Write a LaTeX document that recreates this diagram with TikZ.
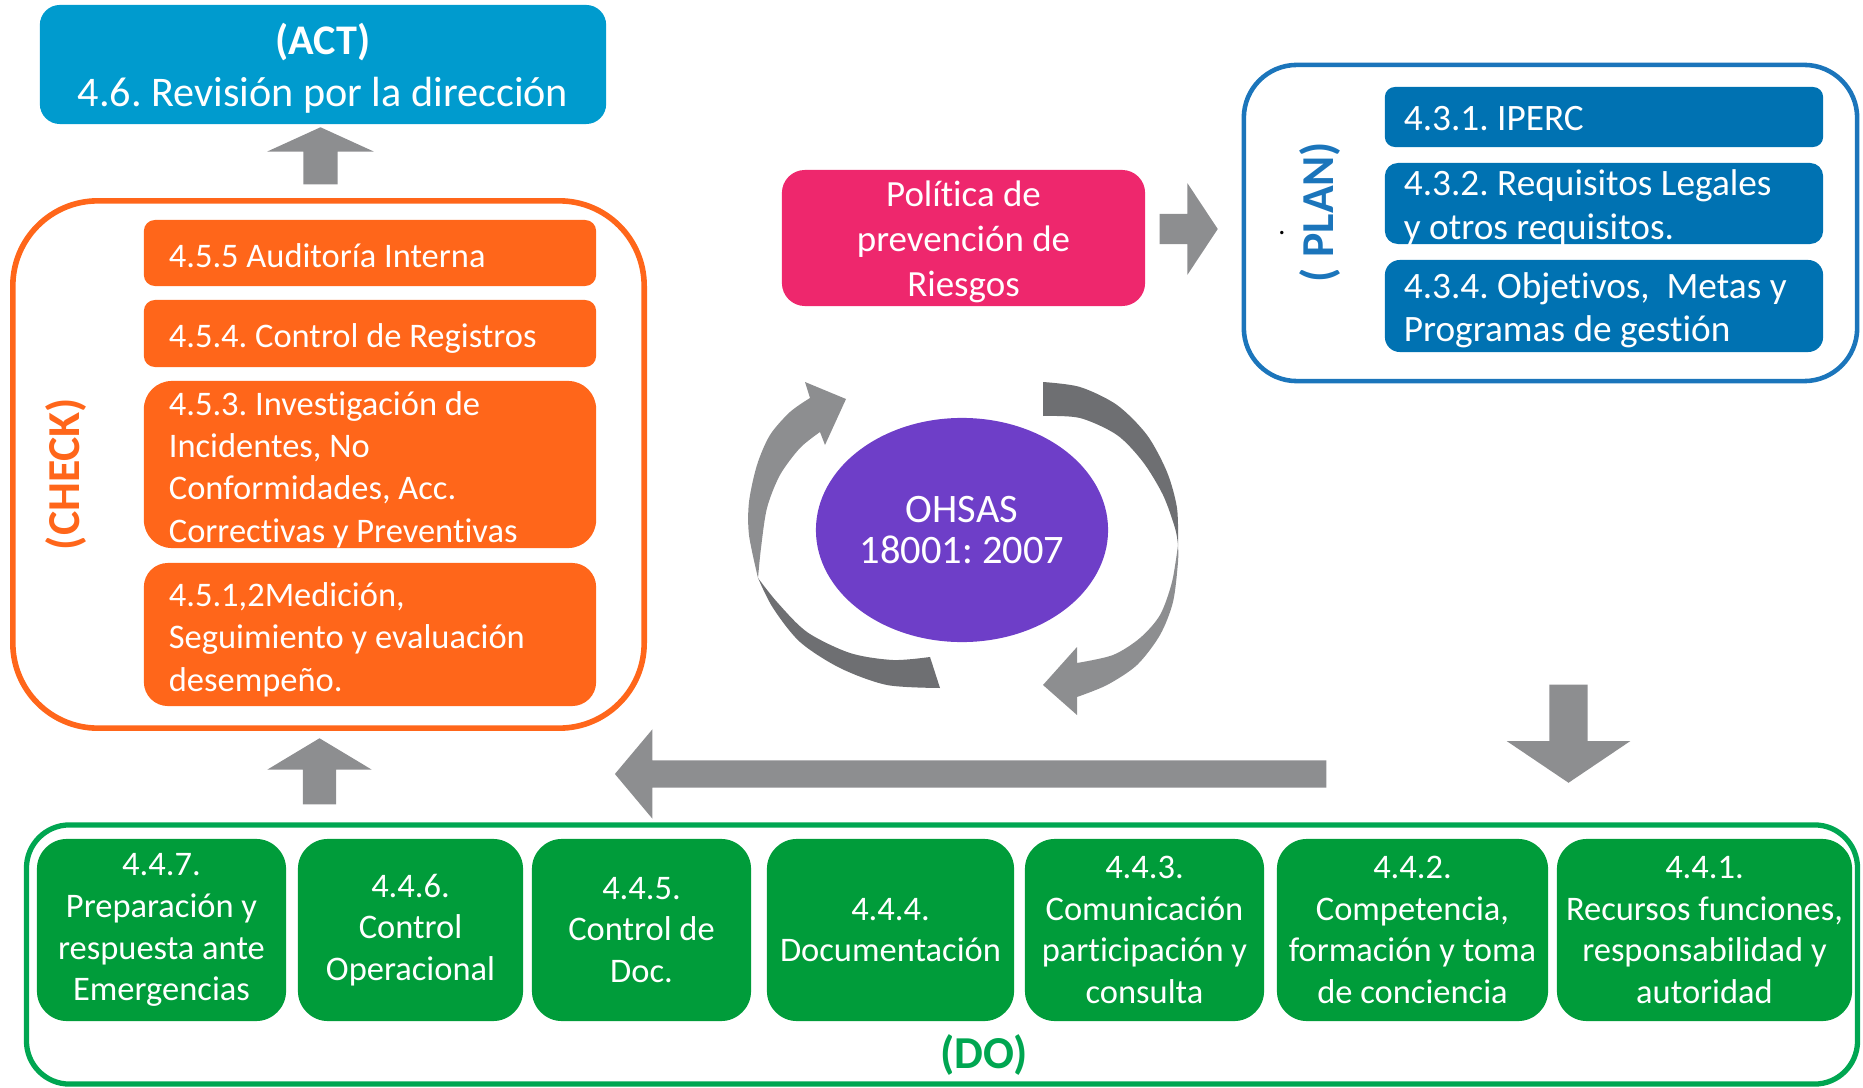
\documentclass[tikz,border=0pt]{standalone}
\usepackage{fontspec}
\setmainfont{Carlito}[Ligatures=CommonOff]
\usetikzlibrary{shapes.geometric,shapes.arrows}
\frenchspacing
\definecolor{actblue}{RGB}{0,155,206}
\definecolor{planblue}{RGB}{0,114,178}
\definecolor{planline}{RGB}{27,117,187}
\definecolor{checkorange}{RGB}{255,102,26}
\definecolor{dogreen}{RGB}{0,156,58}
\definecolor{doline}{RGB}{0,166,81}
\definecolor{politicapink}{RGB}{238,39,109}
\definecolor{ohsaspurple}{RGB}{110,62,200}
\definecolor{arrowgray}{RGB}{141,142,144}
\definecolor{arrowdark}{RGB}{110,111,114}

\begin{document}
\begin{tikzpicture}[x=0.01cm,y=-0.01cm,
  pptlines/.style={inner ysep=-0.1cm, execute at begin node={\rule{0pt}{#1}}, execute at end node={\rule[-0.25em]{0pt}{0.25em}}},
  pptlines/.default=1em,
  stageframe/.style={draw, line width=1.6pt, inner sep=0pt},
  checkbox/.style={fill=checkorange, text=white, minimum width=4.52cm, text width=4.02cm, inner xsep=0.25cm, align=flush left, font=\fontsize{9.8}{12}\selectfont, pptlines=1.08em},
  planbox/.style={fill=planblue, text=white, minimum width=4.38cm, text width=4.0cm, inner xsep=0.19cm, align=flush left, font=\fontsize{10.6}{12.5}\selectfont, pptlines},
  dobox/.style={fill=dogreen, text=white, minimum height=1.82cm, inner sep=0pt, align=center, rounded corners=0.3cm, font=\fontsize{9.8}{11.9}\selectfont},
  steplabel/.style={font=\bfseries\fontsize{13}{13}\selectfont, inner sep=0pt},
  blockarrow/.style={single arrow, fill=arrowgray, inner xsep=0pt, single arrow head indent=0pt, anchor=tail}]
\useasboundingbox (0,0) rectangle (1863,1088);

\node[fill=actblue, text=white, minimum width=5.66cm, minimum height=1.19cm, text width=5.66cm, rounded corners=0.2cm, inner xsep=0pt, align=flush center, font=\fontsize{12}{14.8}\selectfont, pptlines] (act) at (323,64.5) {\textbf{(ACT)}\\4.6. Revisión por la dirección};

\node[stageframe, draw=checkorange, minimum width=6.31cm, minimum height=5.27cm, rounded corners=0.85cm] (check) at (328.5,464.5) {};
\node[checkbox, minimum height=0.66cm, rounded corners=0.11cm] (c455) at (370,253) {4.5.5 Auditoría Interna};
\node[checkbox, minimum height=0.67cm, rounded corners=0.11cm] (c454) at (370,333.5) {4.5.4. Control de Registros};
\node[checkbox, minimum height=1.67cm, rounded corners=0.28cm] (c453) at (370,464.5) {4.5.3. Investigación de\\Incidentes, No\\Conformidades, Acc.\\Correctivas y Preventivas};
\node[checkbox, minimum height=1.43cm, rounded corners=0.24cm] (c451) at (370,634.5) {4.5.1,2Medición,\\Seguimiento y evaluación\\desempeño.};
\node[steplabel, text=checkorange, rotate=90] (checklabel) at (66,474) {(CHECK)};

\node[fill=politicapink, text=white, minimum width=3.63cm, minimum height=1.36cm, text width=3.63cm, rounded corners=0.23cm, inner xsep=0pt, align=flush center, font=\fontsize{10.5}{12.8}\selectfont, pptlines] (politica) at (963.5,238) {Política de\\prevención de\\Riesgos};

\node[stageframe, draw=planline, line width=1.3pt, minimum width=6.13cm, minimum height=3.16cm, rounded corners=0.53cm] (plan) at (1550.5,223) {};
\node[planbox, minimum height=0.6cm, rounded corners=0.1cm] (p431) at (1604,117) {4.3.1. IPERC};
\node[planbox, minimum height=0.81cm, rounded corners=0.13cm] (p432) at (1604,203.5) {4.3.2. Requisitos Legales\\y otros requisitos.};
\node[planbox, minimum height=0.92cm, rounded corners=0.15cm] (p434) at (1604,306) {4.3.4. Objetivos,~ Metas y\\Programas de gestión};
\node[steplabel, text=planline, rotate=90] (planlabel) at (1320,212) {( PLAN)};
\node[font=\fontsize{8}{8}\selectfont, inner sep=0pt] (punto) at (1282,233) {.};

\node[ellipse, fill=ohsaspurple, text=white, minimum width=2.92cm, minimum height=2.24cm, inner sep=0pt, align=center, font=\fontsize{11.5}{11.5}\selectfont] (ohsas) at (962,530) {OHSAS\\18001: 2007};

\node[stageframe, draw=doline, line width=1.5pt, minimum width=18.3cm, minimum height=2.59cm, rounded corners=0.43cm] (do) at (942,954.5) {};
\node[dobox, minimum width=2.49cm] (d447) at (161.5,930) {4.4.7.\\Preparación y\\respuesta ante\\Emergencias};
\node[dobox, minimum width=2.25cm] (d446) at (410.5,930) {4.4.6.\\Control\\Operacional};
\node[dobox, minimum width=2.19cm] (d445) at (641.5,930) {4.4.5.\\Control de\\Doc.};
\node[dobox, minimum width=2.47cm] (d444) at (890.5,930) {4.4.4.\\Documentación};
\node[dobox, minimum width=2.39cm] (d443) at (1144.5,930) {4.4.3.\\Comunicación\\participación y\\consulta};
\node[dobox, minimum width=2.71cm] (d442) at (1412.5,930) {4.4.2.\\Competencia,\\formación y toma\\de conciencia};
\node[dobox, minimum width=2.95cm] (d441) at (1704.5,930) {4.4.1.\\Recursos funciones,\\responsabilidad y\\autoridad};
\node[steplabel, text=doline] (dolabel) at (984,1055) {(DO)};

\node[blockarrow, rotate=90, minimum height=0.57cm, minimum width=1.05cm, inner ysep=0.165cm, single arrow head extend=0.36cm, single arrow tip angle=131] (toact) at (320.5,185) {};
\node[blockarrow, rotate=90, minimum height=0.66cm, minimum width=1.03cm, inner ysep=0.16cm, single arrow head extend=0.355cm, single arrow tip angle=118] (tocheck) at (319.5,805) {};
\node[blockarrow, minimum height=0.58cm, minimum width=0.9cm, inner ysep=0.145cm, single arrow head extend=0.305cm, single arrow tip angle=113] (toplan) at (1159,229) {};
\node[blockarrow, rotate=180, minimum height=7.11cm, minimum width=0.88cm, inner ysep=0.13cm, single arrow head extend=0.31cm, single arrow tip angle=100] (todo) at (1327,774) {};
\node[blockarrow, rotate=270, minimum height=0.98cm, minimum width=1.22cm, inner ysep=0.185cm, single arrow head extend=0.425cm, single arrow tip angle=112] (down) at (1568.5,684) {};

\fill[arrowgray] plot[smooth] coordinates {(758,578) (749,535) (749,502) (757,465) (770,435) (790,412) (810,398)} -- (805,382) -- (846,399) -- (825,445) -- (820,432) -- plot[smooth] coordinates {(820,432) (800,448) (780,475) (767,508) (761,548) (758,578)} -- cycle;
\fill[arrowdark] plot[smooth] coordinates {(758,578) (773,608) (800,642) (840,668) (887,685) (940,688)} -- (930,657) -- plot[smooth] coordinates {(930,657) (893,660) (850,653) (807,632) (777,602) (758,578)} -- cycle;
\fill[arrowdark] plot[smooth] coordinates {(1043,382) (1080,387) (1117,405) (1147,435) (1167,472) (1177,508) (1178,545)} -- plot[smooth] coordinates {(1178,545) (1175,528) (1163,495) (1143,462) (1117,435) (1080,418) (1043,416)} -- cycle;
\fill[arrowgray] plot[smooth] coordinates {(1178,545) (1178,562) (1173,602) (1160,635) (1137,665) (1107,685) (1077,697)} -- (1077,715) -- (1043,685) -- (1077,647) -- plot[smooth] coordinates {(1077,663) (1113,655) (1140,638) (1160,615) (1172,582) (1178,545)} -- cycle;

\end{tikzpicture}
\end{document}
